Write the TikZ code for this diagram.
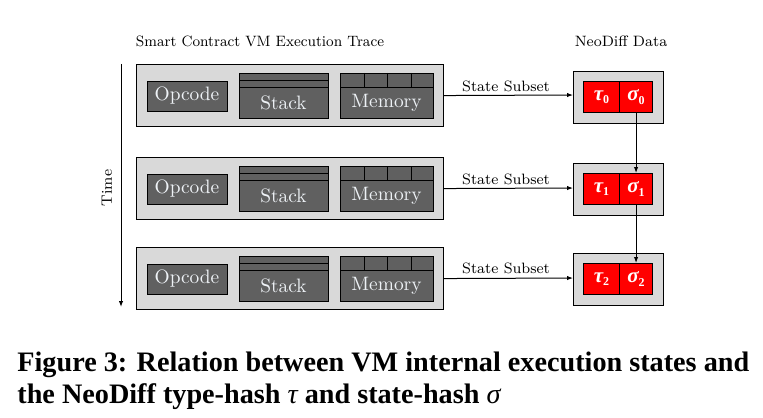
\documentclass[tikz,border=0pt]{standalone}
\usepackage{fontspec}
\newfontfamily\capfont{Liberation Serif}
\usetikzlibrary{arrows.meta}
\definecolor{outergray}{HTML}{D9D9D9}
\definecolor{boxgray}{HTML}{606060}
\definecolor{lighttext}{HTML}{EEF2F6}
\newcommand{\hashsym}[2]{{\capfont\bfseries\itshape #1}\raisebox{-0.4ex}{\capfont\bfseries\fontsize{6}{7}\selectfont #2}}
\begin{document}
\begin{tikzpicture}[x=0.5pt,y=-0.5pt,
 outerbox/.style={draw=black, fill=outergray, line width=0.55pt, anchor=north west, inner sep=0pt},
 darkbox/.style={draw=black, fill=boxgray, line width=0.55pt, anchor=north west, inner sep=0pt},
 redbox/.style={draw=black, fill=red, line width=0.55pt, anchor=north west, inner sep=0pt, text=white, font=\fontsize{10.5}{12}\selectfont},
 boxtext/.style={text=lighttext, font=\fontsize{9.7}{11}\selectfont, inner sep=0pt},
 smalltext/.style={font=\fontsize{7.5}{9}\selectfont, inner sep=0pt},
 divline/.style={line width=0.45pt},
 conn/.style={-{Latex[length=3pt,width=2.2pt]}, line width=0.5pt},
 captext/.style={anchor=base west, inner sep=0pt, font=\capfont\bfseries\fontsize{14.1}{16}\selectfont}
]
\useasboundingbox (0,0) rectangle (763,417);

\node[smalltext] (title1) at (260,41) {\scalebox{0.954}[1]{Smart Contract VM Execution Trace}};
\node[smalltext] (title2) at (621,41) {NeoDiff Data};

\node[outerbox, minimum width=153.5pt, minimum height=31pt] (out0) at (136,64) {};
\node[darkbox, minimum width=40pt, minimum height=15pt] (op0) at (147,81) {};
\node[boxtext] (opt0) at (187,96) {Opcode};
\node[darkbox, minimum width=44.5pt, minimum height=22.5pt] (st0) at (239,73) {};
\draw[divline] (239,80) -- (328,80);
\draw[divline] (239,87) -- (328,87);
\node[boxtext] (stt0) at (283.5,103) {Stack};
\node[darkbox, minimum width=46.5pt, minimum height=22.5pt] (mem0) at (340,73) {};
\draw[divline] (340,87) -- (433,87);
\draw[divline] (364,73) -- (364,87);
\draw[divline] (387,73) -- (387,87);
\draw[divline] (411,73) -- (411,87);
\node[boxtext] (memt0) at (386.5,103) {Memory};
\node[outerbox, minimum width=45pt, minimum height=26pt] (nd0) at (573,71) {};
\node[redbox, minimum width=18pt, minimum height=15.5pt] (tau0) at (583,81) {\hashsym{τ}{0}};
\node[redbox, minimum width=16.5pt, minimum height=15.5pt] (sg0) at (619,81) {\hashsym{σ}{0}};
\coordinate (ae0) at (573,95);
\draw[conn] (out0.east) -- (ae0);
\node[smalltext] (ss0) at (506,86) {State Subset};

\node[outerbox, minimum width=153.5pt, minimum height=31pt] (out1) at (136,157) {};
\node[darkbox, minimum width=40pt, minimum height=15pt] (op1) at (147,174) {};
\node[boxtext] (opt1) at (187,189) {Opcode};
\node[darkbox, minimum width=44.5pt, minimum height=22.5pt] (st1) at (239,166) {};
\draw[divline] (239,173) -- (328,173);
\draw[divline] (239,180) -- (328,180);
\node[boxtext] (stt1) at (283.5,196) {Stack};
\node[darkbox, minimum width=46.5pt, minimum height=22.5pt] (mem1) at (340,166) {};
\draw[divline] (340,180) -- (433,180);
\draw[divline] (364,166) -- (364,180);
\draw[divline] (387,166) -- (387,180);
\draw[divline] (411,166) -- (411,180);
\node[boxtext] (memt1) at (386.5,196) {Memory};
\node[outerbox, minimum width=45pt, minimum height=26pt] (nd1) at (573,163) {};
\node[redbox, minimum width=18pt, minimum height=15.5pt] (tau1) at (583,173) {\hashsym{τ}{1}};
\node[redbox, minimum width=16.5pt, minimum height=15.5pt] (sg1) at (619,173) {\hashsym{σ}{1}};
\coordinate (ae1) at (573,188);
\draw[conn] (out1.east) -- (ae1);
\node[smalltext] (ss1) at (506,179) {State Subset};

\node[outerbox, minimum width=153.5pt, minimum height=31pt] (out2) at (136,247) {};
\node[darkbox, minimum width=40pt, minimum height=15pt] (op2) at (147,264) {};
\node[boxtext] (opt2) at (187,279) {Opcode};
\node[darkbox, minimum width=44.5pt, minimum height=22.5pt] (st2) at (239,256) {};
\draw[divline] (239,263) -- (328,263);
\draw[divline] (239,270) -- (328,270);
\node[boxtext] (stt2) at (283.5,286) {Stack};
\node[darkbox, minimum width=46.5pt, minimum height=22.5pt] (mem2) at (340,256) {};
\draw[divline] (340,270) -- (433,270);
\draw[divline] (364,256) -- (364,270);
\draw[divline] (387,256) -- (387,270);
\draw[divline] (411,256) -- (411,270);
\node[boxtext] (memt2) at (386.5,286) {Memory};
\node[outerbox, minimum width=45pt, minimum height=26pt] (nd2) at (573,253) {};
\node[redbox, minimum width=18pt, minimum height=15.5pt] (tau2) at (583,263) {\hashsym{τ}{2}};
\node[redbox, minimum width=16.5pt, minimum height=15.5pt] (sg2) at (619,263) {\hashsym{σ}{2}};
\coordinate (ae2) at (573,278);
\draw[conn] (out2.east) -- (ae2);
\node[smalltext] (ss2) at (506,268) {State Subset};

\draw[conn] (sg0.south) -- (sg1.north);
\draw[conn] (sg1.south) -- (sg2.north);

\coordinate (tstart) at (121,64);
\coordinate (tend) at (121,307);
\draw[conn] (tstart) -- (tend);
\node[smalltext, rotate=90] (time) at (107,188) {Time};

\node[captext] (cap1) at (17,371) {Figure 3: Relation between VM internal execution states and};
\node[captext] (cap2) at (17,403) {the NeoDiff type-hash {\mdseries\itshape τ} and state-hash {\mdseries\itshape σ}};
\end{tikzpicture}
\end{document}
